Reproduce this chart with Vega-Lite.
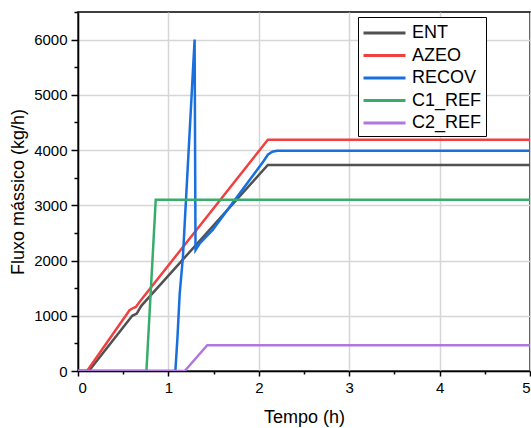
{
  "$schema": "https://vega.github.io/schema/vega-lite/v6.json",
  "width": 452,
  "height": 359,
  "autosize": {"type": "none"},
  "padding": {"left": 78, "top": 12, "right": 1, "bottom": 57},
  "background": "white",
  "config": {
    "font": "Liberation Sans",
    "view": {"stroke": "black", "strokeWidth": 1.5},
    "axis": {
      "labelFontSize": 15,
      "titleFontSize": 18,
      "titleFontWeight": "normal",
      "labelColor": "black",
      "titleColor": "black",
      "domainColor": "black",
      "domainWidth": 1.5,
      "tickColor": "black",
      "tickWidth": 1.5,
      "gridColor": "#d6d6d6",
      "gridWidth": 1.5
    }
  },
  "data": {
    "values": [
      {"t": 0, "v": 0, "s": "ENT"},
      {"t": 0.12, "v": 0, "s": "ENT"},
      {"t": 0.6, "v": 1000, "s": "ENT"},
      {"t": 0.65, "v": 1040, "s": "ENT"},
      {"t": 0.7, "v": 1180, "s": "ENT"},
      {"t": 2.1, "v": 3730, "s": "ENT"},
      {"t": 5, "v": 3730, "s": "ENT"},
      {"t": 0, "v": 0, "s": "AZEO"},
      {"t": 0.1, "v": 0, "s": "AZEO"},
      {"t": 0.57, "v": 1100, "s": "AZEO"},
      {"t": 0.61, "v": 1140, "s": "AZEO"},
      {"t": 0.64, "v": 1160, "s": "AZEO"},
      {"t": 0.68, "v": 1250, "s": "AZEO"},
      {"t": 2.1, "v": 4187, "s": "AZEO"},
      {"t": 5, "v": 4187, "s": "AZEO"},
      {"t": 0, "v": 0, "s": "RECOV"},
      {"t": 1.077, "v": 0, "s": "RECOV"},
      {"t": 1.1, "v": 600, "s": "RECOV"},
      {"t": 1.125, "v": 1400, "s": "RECOV"},
      {"t": 1.16, "v": 2050, "s": "RECOV"},
      {"t": 1.29, "v": 6000, "s": "RECOV"},
      {"t": 1.3, "v": 2190, "s": "RECOV"},
      {"t": 1.35, "v": 2315, "s": "RECOV"},
      {"t": 1.49, "v": 2556, "s": "RECOV"},
      {"t": 2.05, "v": 3794, "s": "RECOV"},
      {"t": 2.1, "v": 3915, "s": "RECOV"},
      {"t": 2.15, "v": 3970, "s": "RECOV"},
      {"t": 2.2, "v": 3988, "s": "RECOV"},
      {"t": 5, "v": 3988, "s": "RECOV"},
      {"t": 0, "v": 0, "s": "C1_REF"},
      {"t": 0.757, "v": 0, "s": "C1_REF"},
      {"t": 0.86, "v": 3100, "s": "C1_REF"},
      {"t": 5, "v": 3100, "s": "C1_REF"},
      {"t": 0, "v": 0, "s": "C2_REF"},
      {"t": 1.18, "v": 0, "s": "C2_REF"},
      {"t": 1.43, "v": 466, "s": "C2_REF"},
      {"t": 5, "v": 466, "s": "C2_REF"}
    ]
  },
  "layer": [
    {
      "mark": {"type": "line", "strokeWidth": 2.5, "clip": true},
      "encoding": {
        "x": {
          "field": "t", "type": "quantitative",
          "scale": {"domain": [0, 5], "nice": false, "zero": false},
          "axis": {"title": "Tempo (h)", "values": [0, 1, 2, 3, 4, 5], "format": "d", "grid": true, "tickSize": 5, "labelPadding": 4, "titlePadding": 13, "orient": "bottom"}
        },
        "y": {
          "field": "v", "type": "quantitative",
          "scale": {"domain": [0, 6500], "nice": false},
          "axis": {"title": "Fluxo mássico (kg/h)", "values": [0, 1000, 2000, 3000, 4000, 5000, 6000], "format": "d", "grid": true, "tickSize": 7, "labelPadding": 4, "titlePadding": 6, "orient": "left"}
        },
        "color": {
          "field": "s", "type": "nominal",
          "scale": {
            "domain": ["ENT", "AZEO", "RECOV", "C1_REF", "C2_REF"],
            "range": ["#515151", "#F14040", "#1A6FDF", "#37AD6B", "#B177DE"]
          },
          "legend": {
            "title": null,
            "orient": "none",
            "legendX": 280,
            "legendY": 5,
            "strokeColor": "black",
            "fillColor": "white",
            "padding": 4,
            "symbolType": "M-1,0H3",
            "symbolSize": 441,
            "symbolStrokeWidth": 3,
            "labelFontSize": 18,
            "labelColor": "black",
            "labelLimit": 200,
            "labelOffset": 26,
            "rowPadding": 1.5
          }
        },
        "order": {"field": "t", "type": "quantitative"}
      }
    },
    {
      "mark": {"type": "line", "strokeOpacity": 0},
      "encoding": {
        "x": {
          "field": "t", "type": "quantitative",
          "axis": {"title": null, "values": [0.5, 1.5, 2.5, 3.5, 4.5], "labels": false, "domain": false, "grid": false, "tickSize": 3, "orient": "bottom"}
        },
        "y": {
          "field": "v", "type": "quantitative",
          "axis": {"title": null, "values": [500, 1500, 2500, 3500, 4500, 5500, 6500], "labels": false, "domain": false, "grid": false, "tickSize": 4, "orient": "left"}
        },
        "detail": {"field": "s", "type": "nominal"},
        "order": {"field": "t", "type": "quantitative"}
      }
    }
  ],
  "resolve": {"axis": {"x": "independent", "y": "independent"}}
}
